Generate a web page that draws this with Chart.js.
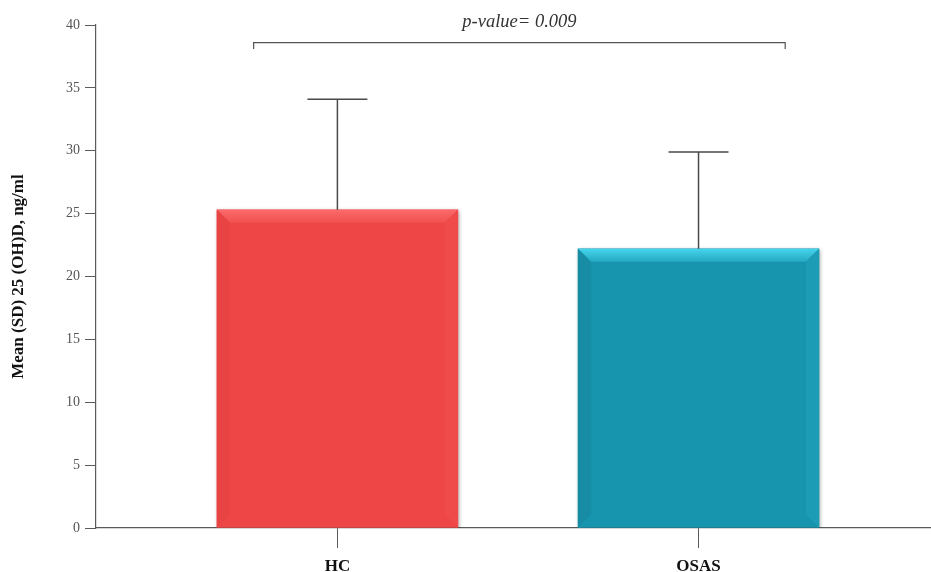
<!DOCTYPE html>
<html>
<head>
<meta charset="utf-8">
<script src="https://cdn.jsdelivr.net/npm/chart.js@4"></script>
<style>
  html, body { margin: 0; padding: 0; background: #fff; }
  #wrap { width: 931px; height: 572px; }
</style>
</head>
<body>
<div id="wrap"><canvas id="VitChart" width="931" height="572"></canvas></div>
<script>
const groups = ["HC", "OSAS"];
const groupPos = [1, 2];
const means = [25.3, 22.2];
const sds = [8.8, 7.7];
const barColors = ["#ee4646", "#1895ae"];
const yTicks = [0, 5, 10, 15, 20, 25, 30, 35, 40];
const pText = "p-value= 0.009";
const bracketX = [0.768, 2.24];
const bracketY = [38.6, 38.1];

const axisGray = "#5a5a5a";

// bevelled look like the original office chart
const bevelPlugin = {
  id: "bevel",
  beforeDatasetDraw(chart) {
    const ctx = chart.ctx;
    ctx.save();
    ctx.shadowColor = "rgba(0,0,0,0.35)";
    ctx.shadowBlur = 4;
    ctx.shadowOffsetX = 1;
    ctx.shadowOffsetY = 1;
  },
  afterDatasetDraw(chart) {
    chart.ctx.restore();
    const ctx = chart.ctx;
    const meta = chart.getDatasetMeta(0);
    const b = 13;
    meta.data.forEach(function (bar, i) {
      const l = bar.x - bar.width / 2, r = bar.x + bar.width / 2;
      const t = bar.y, bo = bar.base;
      const light = i === 0 ? ["#fa6a6a", "#f25050"] : ["#46d4ec", "#24a9c2"];
      const side = i === 0 ? ["#e84444", "#f04b4b"] : ["#178ca4", "#1d9cb5"];
      ctx.save();
      // top
      let g = ctx.createLinearGradient(0, t, 0, t + b);
      g.addColorStop(0, light[0]);
      g.addColorStop(1, light[1]);
      ctx.fillStyle = g;
      ctx.beginPath();
      ctx.moveTo(l, t); ctx.lineTo(r, t); ctx.lineTo(r - b, t + b); ctx.lineTo(l + b, t + b);
      ctx.closePath(); ctx.fill();
      // left
      ctx.fillStyle = side[0];
      ctx.beginPath();
      ctx.moveTo(l, t); ctx.lineTo(l + b, t + b); ctx.lineTo(l + b, bo - b); ctx.lineTo(l, bo);
      ctx.closePath(); ctx.fill();
      // right
      ctx.fillStyle = side[1];
      ctx.beginPath();
      ctx.moveTo(r, t); ctx.lineTo(r - b, t + b); ctx.lineTo(r - b, bo - b); ctx.lineTo(r, bo);
      ctx.closePath(); ctx.fill();
      ctx.restore();
    });
  },
};

const errorPlugin = {
  id: "errorBars",
  afterDatasetsDraw(chart) {
    const ctx = chart.ctx;
    const y = chart.scales.y, x = chart.scales.x;
    const meta = chart.getDatasetMeta(0);
    ctx.save();
    ctx.strokeStyle = "#4a4a4a";
    ctx.lineWidth = 1.5;
    meta.data.forEach(function (bar, i) {
      const top = y.getPixelForValue(means[i] + sds[i]);
      ctx.beginPath();
      ctx.moveTo(bar.x, bar.y);
      ctx.lineTo(bar.x, top);
      ctx.moveTo(bar.x - 30, top);
      ctx.lineTo(bar.x + 30, top);
      ctx.stroke();
    });
    // p-value bracket
    const x1 = x.getPixelForValue(bracketX[0]), x2 = x.getPixelForValue(bracketX[1]);
    const yb = y.getPixelForValue(bracketY[0]), yd = y.getPixelForValue(bracketY[1]);
    ctx.strokeStyle = "#555";
    ctx.lineWidth = 1.2;
    ctx.beginPath();
    ctx.moveTo(x1, yd); ctx.lineTo(x1, yb); ctx.lineTo(x2, yb); ctx.lineTo(x2, yd);
    ctx.stroke();
    ctx.fillStyle = "#333";
    ctx.font = "italic 18.5px 'Liberation Serif', serif";
    ctx.textAlign = "center";
    ctx.textBaseline = "alphabetic";
    ctx.fillText(pText, (x1 + x2) / 2, yb - 16);
    ctx.restore();
  },
};

const ctx = document.getElementById("VitChart");
new Chart(ctx, {
  type: "bar",
  data: {
    datasets: [
      {
        data: groupPos.map(function (p, i) { return { x: p, y: means[i] }; }),
        backgroundColor: barColors,
        borderWidth: 0,
        barThickness: 241,
      },
    ],
  },
  options: {
    responsive: false,
    animation: false,
    layout: { padding: { top: 25, right: 1, left: 10, bottom: -13 } },
    plugins: { legend: { display: false }, tooltip: { enabled: false } },
    scales: {
      x: {
        type: "linear",
        offset: false,
        min: 0.3315,
        max: 2.641,
        afterBuildTicks: function (axis) {
          axis.ticks = groupPos.map(function (v) { return { value: v }; });
        },
        ticks: {
          color: "#111",
          font: { family: "'Liberation Serif', serif", size: 17, weight: "bold", lineHeight: 1 },
          padding: 10,
          callback: function (v) { return groups[groupPos.indexOf(v)]; },
        },
        grid: { drawOnChartArea: false, offset: false, tickLength: 20, color: axisGray },
        border: { color: axisGray, width: 1.2 },
      },
      y: {
        min: 0,
        max: 40,
        afterBuildTicks: function (axis) {
          axis.ticks = yTicks.map(function (v) { return { value: v }; });
        },
        ticks: {
          color: "#555",
          font: { family: "'Liberation Serif', serif", size: 14 },
          padding: 5,
        },
        grid: { drawOnChartArea: false, tickLength: 11, color: axisGray },
        border: { color: axisGray, width: 1.2 },
        title: {
          display: true,
          text: "Mean (SD) 25 (OH)D, ng/ml",
          color: "#111",
          font: { family: "'Liberation Serif', serif", size: 17, weight: "bold", lineHeight: 1 },
          padding: { top: 0, bottom: 34 },
        },
      },
    },
  },
  plugins: [bevelPlugin, errorPlugin],
});
</script>
</body>
</html>
